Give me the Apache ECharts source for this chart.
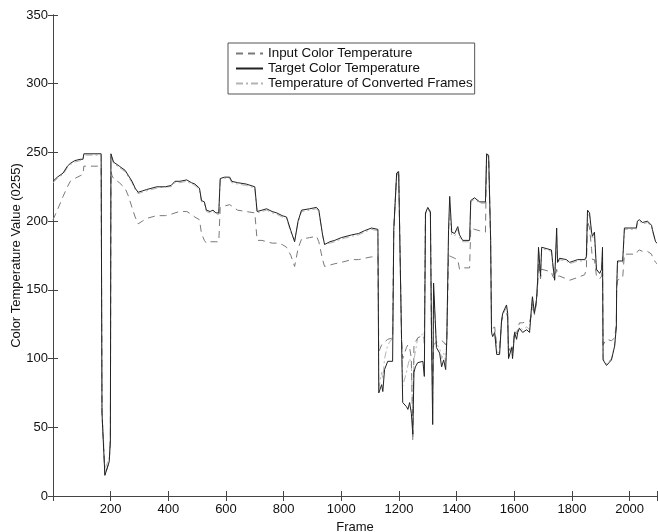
<!DOCTYPE html>
<html>
<head>
<meta charset="utf-8">
<title>Color Temperature</title>
<script src="https://cdn.jsdelivr.net/npm/echarts@6/dist/echarts.min.js"></script>
<style>
  html, body { margin: 0; padding: 0; background: #fff; }
  #chart { width: 658px; height: 532px; }
</style>
</head>
<body>
<div id="chart"></div>
<script>
// 帧序号（横轴）
const frames = [
  0, 15, 35, 50, 60, 75, 94, 104, 107, 167,
  170, 180, 195, 199, 201, 205, 210, 230, 250, 262,
  274, 285, 295, 310, 325, 360, 390, 410, 423, 440,
  464, 480, 492, 508, 512, 515, 525, 532, 545, 555,
  565, 575, 580, 595, 613, 620, 640, 670, 700, 706,
  708, 725, 741, 760, 776, 795, 810, 825, 838, 850,
  862, 890, 914, 922, 935, 942, 960, 977, 1000, 1036,
  1060, 1080, 1105, 1127, 1130, 1140, 1144, 1150, 1161, 1178,
  1182, 1192, 1199, 1203, 1209, 1213, 1226, 1231, 1237, 1243,
  1248, 1252, 1257, 1265, 1283, 1288, 1292, 1300, 1309, 1313,
  1317, 1320, 1330, 1341, 1348, 1355, 1362, 1366, 1372, 1376,
  1383, 1393, 1404, 1410, 1421, 1445, 1449, 1462, 1480, 1500,
  1504, 1511, 1518, 1521, 1525, 1532, 1539, 1549, 1556, 1560,
  1573, 1577, 1580, 1591, 1594, 1601, 1608, 1612, 1618, 1629,
  1643, 1653, 1660, 1663, 1670, 1677, 1681, 1684, 1691, 1695,
  1729, 1733, 1740, 1747, 1750, 1757, 1781, 1792, 1820, 1844,
  1850, 1854, 1861, 1868, 1871, 1878, 1885, 1896, 1903, 1906,
  1908, 1920, 1937, 1948, 1954, 1955, 1958, 1976, 1982, 2023,
  2027, 2034, 2045, 2062, 2076, 2079, 2090, 2095
];

// Input Color Temperature
const inputTemp = [
  201, 208, 218, 225, 229, 231, 233, 234, 240, 240,
  60, 15, 25, 40, 236, 233, 231, 228, 224, 218,
  210, 203, 198, 200, 202, 204, 204, 205, 206, 207,
  207, 205, 203, 201, 200, 191, 186, 184, 185, 185,
  185, 185, 210, 211, 212, 211, 208, 207, 206, 206,
  186, 186, 185, 184, 184, 183, 181, 175, 167, 180,
  187, 188, 189, 185, 172, 167, 168, 169, 170, 172,
  172, 173, 174, 174, 105, 110, 110, 112, 114, 115,
  194, 234, 237, 188, 115, 100, 108, 110, 108, 100,
  40, 110, 112, 115, 117, 115, 206, 209, 206, 114,
  80, 110, 112, 112, 113, 112, 110, 114, 175, 176,
  174, 173, 172, 165, 166, 166, 195, 194, 193, 192,
  248, 247, 186, 125, 122, 123, 110, 108, 127, 130,
  133, 130, 105, 110, 106, 120, 118, 122, 126, 126,
  127, 127, 132, 140, 132, 140, 152, 170, 158, 165,
  163, 160, 158, 165, 160, 160, 158, 157, 159, 161,
  165, 200, 195, 180, 172, 172, 160, 158, 160, 170,
  110, 114, 113, 115, 125, 150, 157, 159, 176, 176,
  178, 179, 178, 178, 176, 174, 170, 169
];

// Target Color Temperature
const targetTemp = [
  229, 232, 235, 240, 242, 244, 245, 245, 249, 249,
  60, 15, 25, 40, 249, 248, 243, 240, 237, 233,
  229, 224, 221, 222, 223, 225, 225, 226, 229, 229,
  230, 228, 227, 224, 224, 215, 214, 208, 207, 208,
  206, 206, 231, 232, 232, 229, 228, 227, 225, 224,
  207, 208, 209, 207, 206, 204, 203, 193, 185, 200,
  208, 209, 210, 208, 190, 183, 185, 186, 188, 190,
  191, 193, 195, 194, 75, 81, 76, 92, 98, 98,
  194, 235, 236, 186, 114, 68, 65, 63, 68, 60,
  45, 90, 94, 97, 98, 87, 206, 210, 207, 114,
  52, 155, 108, 104, 94, 99, 92, 114, 194, 218,
  192, 191, 196, 190, 186, 186, 215, 217, 214, 214,
  249, 248, 186, 119, 116, 119, 103, 103, 128, 133,
  139, 133, 100, 108, 100, 119, 114, 119, 122, 119,
  121, 119, 138, 145, 133, 143, 157, 181, 160, 181,
  179, 170, 157, 195, 170, 173, 172, 170, 172, 172,
  174, 208, 206, 192, 189, 192, 165, 162, 165, 181,
  99, 95, 99, 109, 123, 150, 171, 171, 195, 195,
  200, 201, 199, 200, 197, 194, 185, 184
];

// Temperature of Converted Frames
const convertedTemp = [
  228, 231, 234, 239, 241, 243, 244, 245, 248, 248,
  62, 20, 27, 42, 248, 247, 242, 239, 236, 232,
  228, 223, 220, 221, 222, 224, 225, 225, 228, 228,
  229, 227, 226, 223, 223, 214, 213, 207, 206, 207,
  205, 205, 230, 231, 231, 228, 227, 226, 224, 223,
  206, 207, 208, 206, 205, 203, 202, 192, 186, 199,
  207, 208, 209, 207, 190, 183, 184, 185, 187, 189,
  190, 192, 194, 193, 78, 90, 85, 100, 110, 115,
  194, 233, 235, 186, 114, 80, 90, 95, 100, 95,
  60, 100, 105, 115, 118, 110, 205, 209, 206, 114,
  60, 150, 110, 108, 100, 104, 98, 114, 190, 205,
  190, 189, 194, 188, 185, 185, 214, 216, 213, 213,
  248, 247, 186, 120, 118, 120, 105, 104, 128, 132,
  137, 132, 102, 108, 102, 119, 115, 120, 123, 121,
  123, 121, 136, 144, 133, 142, 156, 180, 160, 180,
  178, 169, 158, 190, 169, 172, 171, 169, 171, 171,
  173, 205, 204, 190, 187, 189, 164, 162, 164, 178,
  100, 96, 100, 109, 123, 150, 170, 170, 194, 194,
  198, 200, 198, 199, 196, 193, 185, 184
];

const SERIES_NAMES = ['Input Color Temperature', 'Target Color Temperature', 'Temperature of Converted Frames'];
const FONT = 'Liberation Sans, Arial, Helvetica, sans-serif';

const X_MAX = 2095;
const Y_MAX = 350;

function pairs(values) {
  return frames.map((f, i) => [f, values[i]]);
}

const chart = echarts.init(document.getElementById('chart'));

// 公共的坐标轴样式（刻度朝内，类似 MATLAB）
const axisLineStyle = { lineStyle: { color: '#444', width: 1 } };
const tickStyle = { inside: true, length: 5, lineStyle: { color: '#444' } };

const option = {
  backgroundColor: '#fff',
  animation: false,
  // 固定绘图区位置，不让 v6 自动收缩
  grid: { left: 53, right: 1, top: 15, bottom: 36, containLabel: false, outerBoundsMode: 'none' },
  legend: {
    data: SERIES_NAMES,
    orient: 'vertical',
    left: 228,
    top: 43,
    padding: [4, 2, 4, 7],
    itemWidth: 27,
    itemHeight: 10,
    itemGap: 2,
    borderColor: '#555',
    borderWidth: 1,
    backgroundColor: '#fff',
    // 图例只显示线型，隐藏圆点
    itemStyle: { opacity: 0 },
    textStyle: { fontFamily: FONT, fontSize: 13.4, color: '#111', lineHeight: 13 }
  },
  xAxis: [
    {
      type: 'value',
      min: 0,
      max: X_MAX,
      interval: 200,
      name: 'Frame',
      nameLocation: 'middle',
      nameGap: 22,
      nameTextStyle: { fontFamily: FONT, fontSize: 13, color: '#111' },
      axisLine: axisLineStyle,
      axisTick: tickStyle,
      splitLine: { show: false },
      axisLabel: {
        fontFamily: FONT, fontSize: 13, color: '#111', margin: 7,
        formatter: v => (v > 0 && v % 200 === 0) ? String(v) : ''
      }
    },
    {
      type: 'value',
      position: 'top',
      min: 0,
      max: X_MAX,
      interval: 200,
      axisLine: axisLineStyle,
      axisTick: tickStyle,
      axisLabel: { show: false },
      splitLine: { show: false }
    }
  ],
  yAxis: [
    {
      type: 'value',
      min: 0,
      max: Y_MAX,
      interval: 50,
      name: 'Color Temperature Value (0255)',
      nameLocation: 'middle',
      nameGap: 30,
      nameMoveOverlap: false,
      nameTextStyle: { fontFamily: FONT, fontSize: 13, color: '#111' },
      axisLine: { show: true, lineStyle: { color: '#444', width: 1 } },
      axisTick: { show: true, inside: true, length: 5, lineStyle: { color: '#444' } },
      splitLine: { show: false },
      axisLabel: { fontFamily: FONT, fontSize: 13, color: '#111', margin: 5 }
    },
    {
      type: 'value',
      position: 'right',
      min: 0,
      max: Y_MAX,
      interval: 50,
      axisLine: { show: true, lineStyle: { color: '#444', width: 1 } },
      axisTick: { show: true, inside: true, length: 5, lineStyle: { color: '#444' } },
      axisLabel: { show: false },
      splitLine: { show: false }
    }
  ],
  series: [
    // 先画浅色的转换结果，再画输入，最后画目标（黑色在最上层）
    {
      name: SERIES_NAMES[2],
      type: 'line',
      data: pairs(convertedTemp),
      symbol: 'none',
      lineStyle: { color: '#b4b4b4', width: 1, type: [7, 3, 2, 3] },
      itemStyle: { color: '#b4b4b4' }
    },
    {
      name: SERIES_NAMES[0],
      type: 'line',
      data: pairs(inputTemp),
      symbol: 'none',
      lineStyle: { color: '#7a7a7a', width: 1, type: [7, 5] },
      itemStyle: { color: '#7a7a7a' }
    },
    {
      name: SERIES_NAMES[1],
      type: 'line',
      data: pairs(targetTemp),
      symbol: 'none',
      lineStyle: { color: '#222', width: 1 },
      itemStyle: { color: '#222' }
    }
  ]
};

chart.setOption(option);
</script>
</body>
</html>
